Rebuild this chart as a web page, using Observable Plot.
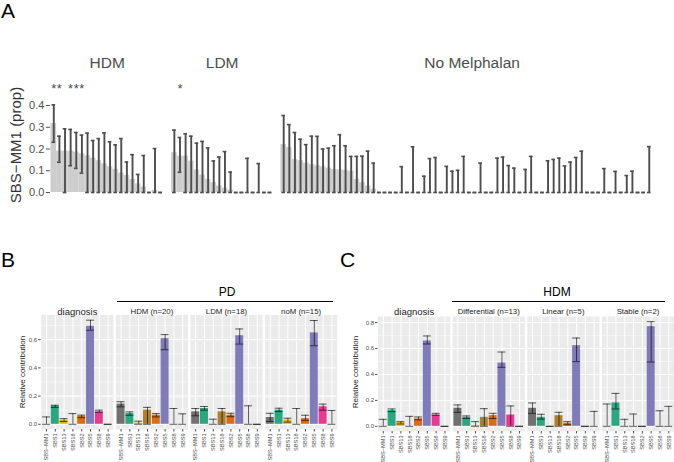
<!DOCTYPE html>
<html><head><meta charset="utf-8">
<script src="https://cdn.jsdelivr.net/npm/d3@7"></script>
<script src="https://cdn.jsdelivr.net/npm/@observablehq/plot@0.6"></script>
<style>
body{margin:0;background:#fff;}
#fig{position:relative;width:674px;height:462px;overflow:hidden;font-family:"Liberation Sans",Arial,sans-serif;}
#fig svg{position:absolute;left:0;top:0;}
.lbl{position:absolute;white-space:nowrap;line-height:1;}
.hline{position:absolute;height:0;border-top:1px solid #000;}
</style></head><body><div id="fig"></div><script>
// ---------------- Panel A data ----------------
const facetA = ["HDM", "LDM", "No Melphalan"];
const hdmEst = [0.317,0.19,0.19,0.19,0.186,0.178,0.169,0.158,0.146,0.132,0.118,0.106,0.089,0.078,0.06,0.04,0.025,0,0.01,0];
const hdmLo  = [0.231,0.139,0,0.123,0.111,0.089,0,0,0,0,0,0,0,0,0,0,0,0,0,0];
const hdmHi  = [0.403,0.259,0.293,0.29,0.276,0.264,0.273,0.239,0.248,0.274,0.233,0.219,0.248,0.14,0.174,0.083,0.17,0,0.202,0];
const ldmEst = [0.183,0.167,0.167,0.144,0.104,0.08,0.06,0.045,0.03,0.02,0.01,0,0,0,0,0,0,0];
const ldmLo  = [0,0.093,0,0,0,0,0,0,0,0,0,0,0,0,0,0,0,0];
const ldmHi  = [0.287,0.253,0.27,0.259,0.227,0.235,0.205,0.145,0.163,0.188,0.094,0,0,0.157,0,0.133,0,0];
const nomEst = [0.22,0.207,0.152,0.146,0.135,0.129,0.123,0.118,0.112,0.106,0.104,0.102,0.098,0.06,0.045,0.03,0.015,
  0,0,0,0,0,0,0,0,0,0,0,0,0,0,0,0,0,0,0,0,0,0,0,0,0,0,0,0,0,0,0,0,0,0,0,0,0,0,0,0,0,0,0,0,0,0,0,0,0,0,0];
const nomLo  = [0,0,0,0,0,0,0,0,0,0,0,0,0,0,0,0,0,0,0,0,0,0,0,0,0,0,0,0,0,0,0,0,0,0,0,0,0,0,0,0,0,0,0,0,0,0,0,0,0,0,0,0,0,0,0,0,0,0,0,0,0,0,0,0,0,0];
const nomHi  = [0.354,0.312,0.276,0.245,0.22,0.259,0.258,0.2,0.204,0.215,0.266,0.215,0.166,0.166,0.167,0.19,0.135,
  0,0,0,0,0.119,0,0.21,0,0.075,0.156,0.161,0,0.12,0.098,0.102,0.166,0,0,0.135,0,0,0.158,0.163,0.124,0.112,0,0.106,0.166,0,0,
  0.146,0.152,0.158,0.122,0.14,0.161,0.19,0,0,0,0.11,0,0.097,0,0.078,0.098,0,0,0.211];
const yTicksA = [0, 0.1, 0.2, 0.3, 0.4];

// ---------------- Panels B & C data ----------------
const sigs = ["SBS\u2212MM1","SBS1","SBS13","SBS18","SBS2","SBS5","SBS8","SBS9"];
const sigColors = ["#666666","#1B9E77","#E6AB02","#A6761D","#D95F02","#7570B3","#E7298A","#66A61E"];

const groupsB = ["diagnosis","HDM (n=20)","LDM (n=18)","noM (n=15)"];
const bDiag   = [0,0.129,0.029,0,0.056,0.695,0.088,0];
const bDiagLo = [0,0.12,0.02,0,0.047,0.667,0.085,0];
const bDiagHi = [0.052,0.135,0.04,0.076,0.065,0.738,0.1,0];
const bHdm    = [0.143,0.076,0.008,0.1,0.064,0.607,0,0];
const bHdmLo  = [0.124,0.064,0,0,0.052,0.529,0,0];
const bHdmHi  = [0.16,0.088,0.022,0.12,0.076,0.636,0.112,0.074];
const bLdm    = [0.088,0.112,0,0.088,0.064,0.628,0,0];
const bLdmLo  = [0.06,0.1,0,0,0.054,0.569,0,0];
const bLdmHi  = [0.112,0.126,0.036,0.112,0.078,0.676,0.131,0];
const bNom    = [0.048,0.1,0.029,0,0.04,0.648,0.124,0];
const bNomLo  = [0.02,0.09,0.015,0,0.028,0.557,0.1,0];
const bNomHi  = [0.078,0.114,0.043,0.112,0.064,0.736,0.143,0.098];

const groupsC = ["diagnosis","Differential (n=13)","Linear (n=5)","Stable (n=2)"];
const cDiag   = [0,0.121,0.028,0,0.057,0.658,0.087,0];
const cDiagLo = [0,0.113,0.018,0,0.05,0.635,0.085,0];
const cDiagHi = [0.054,0.134,0.036,0.077,0.072,0.697,0.1,0];
const cDiff   = [0.139,0.069,0.005,0.069,0.082,0.488,0.087,0];
const cDiffLo = [0.108,0.06,0,0,0.06,0.455,0,0];
const cDiffHi = [0.165,0.08,0.036,0.136,0.1,0.573,0.157,0];
const cLin    = [0.139,0.069,0,0.082,0.023,0.622,0,0];
const cLinLo  = [0.1,0.055,0,0,0.012,0.499,0,0];
const cLinHi  = [0.18,0.093,0,0.108,0.036,0.681,0,0.115];
const cStab   = [0,0.18,0,0,0,0.769,0,0];
const cStabLo = [0,0.134,0,0,0,0.496,0,0];
const cStabHi = [0.172,0.254,0.054,0.095,0,0.807,0.12,0.154];
const yTicksB = [0, 0.2, 0.4, 0.6];
const yTicksC = [0, 0.2, 0.4, 0.6, 0.8];

// ---------------- helpers ----------------
const fig = document.getElementById("fig");
const FONT = "Liberation Sans, Arial, sans-serif";
function label(text, x, y, size, opts = {}) {
  const d = document.createElement("div");
  d.className = "lbl";
  d.textContent = text;
  d.style.fontSize = size + "px";
  d.style.color = opts.color || "#000";
  d.style.left = x + "px";
  d.style.top = y + "px";
  if (opts.center) d.style.transform = `translate(-50%,-50%) rotate(${opts.rotate || 0}deg)`;
  fig.appendChild(d);
}
function hline(x1, x2, y) {
  const d = document.createElement("div");
  d.className = "hline";
  d.style.left = x1 + "px"; d.style.width = (x2 - x1) + "px"; d.style.top = y + "px";
  fig.appendChild(d);
}

// ---------------- Panel A ----------------
const gapA = 1.44;
const rowsA = [], centersA = [];
{
  let offset = 0;
  [[hdmEst, hdmLo, hdmHi], [ldmEst, ldmLo, ldmHi], [nomEst, nomLo, nomHi]].forEach(([est, lo, hi], f) => {
    est.forEach((v, i) => rowsA.push({facet: facetA[f], pos: offset + i, est: v, lo: lo[i], hi: hi[i]}));
    centersA.push({facet: facetA[f], pos: offset + (est.length - 1) / 2});
    offset += est.length + gapA;
  });
}
const lastPos = d3.max(rowsA, d => d.pos);
const errCol = "#4D4D4D";
const plotA = Plot.plot({
  width: 674, height: 210,
  marginLeft: 49.9, marginRight: 10.6, marginTop: 0, marginBottom: 0,
  style: {fontFamily: FONT, background: "transparent", overflow: "visible"},
  x: {domain: [-0.6, lastPos + 0.6], range: [49.9, 663.4], axis: null},
  y: {domain: [0, 0.4], range: [192, 105], axis: null},
  marks: [
    Plot.rect(rowsA.filter(d => d.est > 0), {x1: d => d.pos - 0.5, x2: d => d.pos + 0.5, y1: 0, y2: "est", fill: "#CDCDCD"}),
    Plot.ruleX(rowsA.filter(d => d.hi > d.lo), {x: "pos", y1: "lo", y2: "hi", stroke: errCol, strokeWidth: 1.9}),
    Plot.ruleY(rowsA, {y: "hi", x1: d => d.pos - 0.33, x2: d => d.pos + 0.33, stroke: errCol, strokeWidth: 1.6}),
    Plot.ruleY(rowsA, {y: "lo", x1: d => d.pos - 0.33, x2: d => d.pos + 0.33, stroke: errCol, strokeWidth: 1.6}),
    Plot.text(rowsA.filter(d => d.lo > 0), {x: "pos", y: 0.478, text: () => "*", fontSize: 13, fill: errCol}),
    Plot.text(centersA, {x: "pos", y: 0.593, text: "facet", fontSize: 15.5, fill: "#4D4D4D"}),
    Plot.axisY({ticks: yTicksA, tickFormat: d3.format(".1f"), fontSize: 11, tickSize: 4, tickPadding: 2, color: "#4D4D4D", label: null})
  ]
});
fig.appendChild(plotA);

// ---------------- Panels B & C ----------------
function makeRows(groups, sets) {
  const rows = [];
  sets.forEach(([v, lo, hi], g) => v.forEach((val, i) => rows.push({group: groups[g], sig: sigs[i], v: val, lo: lo[i], hi: hi[i]})));
  return rows;
}
function sigPanel(groups, rows, yDomain, yTicks, left, right, top, bottom, stripDy) {
  const grid = d3.range(0, yDomain[1], 0.1).map(v => +v.toFixed(1));
  return Plot.plot({
    width: 674, height: 462,
    marginLeft: left, marginRight: 674 - right, marginTop: top, marginBottom: 462 - bottom,
    style: {fontFamily: FONT, background: "transparent", overflow: "visible"},
    fx: {domain: groups, paddingInner: 0.032, paddingOuter: 0, axis: null, round: false},
    x: {domain: sigs, paddingInner: 0.1, paddingOuter: 0.15, axis: null, round: false},
    y: {domain: yDomain, axis: null},
    color: {domain: sigs, range: sigColors},
    marks: [
      Plot.frame({fill: "#EBEBEB", stroke: null}),
      Plot.ruleY(grid.filter(v => !yTicks.includes(v)), {stroke: "#fff", strokeWidth: 0.5}),
      Plot.ruleY(yTicks, {stroke: "#fff", strokeWidth: 1}),
      Plot.ruleX(sigs, {x: d => d, stroke: "#fff", strokeWidth: 1}),
      Plot.rectY(rows.filter(d => d.v > 0), {fx: "group", x: "sig", y1: 0, y2: "v", fill: "sig", fillOpacity: 0.92}),
      Plot.ruleX(rows.filter(d => d.hi > d.lo), {fx: "group", x: "sig", y1: "lo", y2: "hi", stroke: "#000", strokeOpacity: 0.7, strokeWidth: 0.9}),
      Plot.tickY(rows, {fx: "group", x: "sig", y: "hi", stroke: "#000", strokeOpacity: 0.7, strokeWidth: 0.9}),
      Plot.tickY(rows, {fx: "group", x: "sig", y: "lo", stroke: "#000", strokeOpacity: 0.7, strokeWidth: 0.9}),
      Plot.text(groups.slice(0, 1), {fx: d => d, text: d => d, frameAnchor: "top", dy: stripDy, fontSize: 9.5, fill: "#1A1A1A"}),
      Plot.text(groups.slice(1), {fx: d => d, text: d => d, frameAnchor: "top", dy: stripDy, fontSize: 7.8, fill: "#1A1A1A"}),
      Plot.axisY({ticks: yTicks, tickFormat: d3.format(".1f"), fontSize: 6, tickSize: 2.5, tickPadding: 1.5, color: "#4D4D4D", label: null}),
      Plot.axisX({tickRotate: -90, fontSize: 5.6, tickSize: 2.5, tickPadding: 1.5, color: "#4D4D4D", label: null})
    ]
  });
}
const rowsB = makeRows(groupsB, [[bDiag,bDiagLo,bDiagHi],[bHdm,bHdmLo,bHdmHi],[bLdm,bLdmLo,bLdmHi],[bNom,bNomLo,bNomHi]]);
const rowsC = makeRows(groupsC, [[cDiag,cDiagLo,cDiagHi],[cDiff,cDiffLo,cDiffHi],[cLin,cLinLo,cLinHi],[cStab,cStabLo,cStabHi]]);
fig.appendChild(sigPanel(groupsB, rowsB, [-0.037, 0.775], yTicksB, 40.7, 336.7, 314.5, 429, -7));
fig.appendChild(sigPanel(groupsC, rowsC, [-0.04, 0.847], yTicksC, 377.5, 673.6, 316, 431, -8));

// ---------------- titles & annotations ----------------
label("A", 1, 0, 21);
label("B", 1, 249, 21);
label("C", 340, 249, 21);
label("SBS\u2212MM1 (prop)", 15, 145, 15, {center: true, rotate: -90, color: "#333"});
label("Relative contribution", 22.7, 372, 8, {center: true, rotate: -90, color: "#1A1A1A"});
label("Relative contribution", 356, 372, 8, {center: true, rotate: -90, color: "#1A1A1A"});
label("PD", 227, 292, 12, {center: true});
hline(117, 333, 300.5);
label("HDM", 557, 292, 12, {center: true});
hline(452, 665, 300.5);
</script></body></html>
